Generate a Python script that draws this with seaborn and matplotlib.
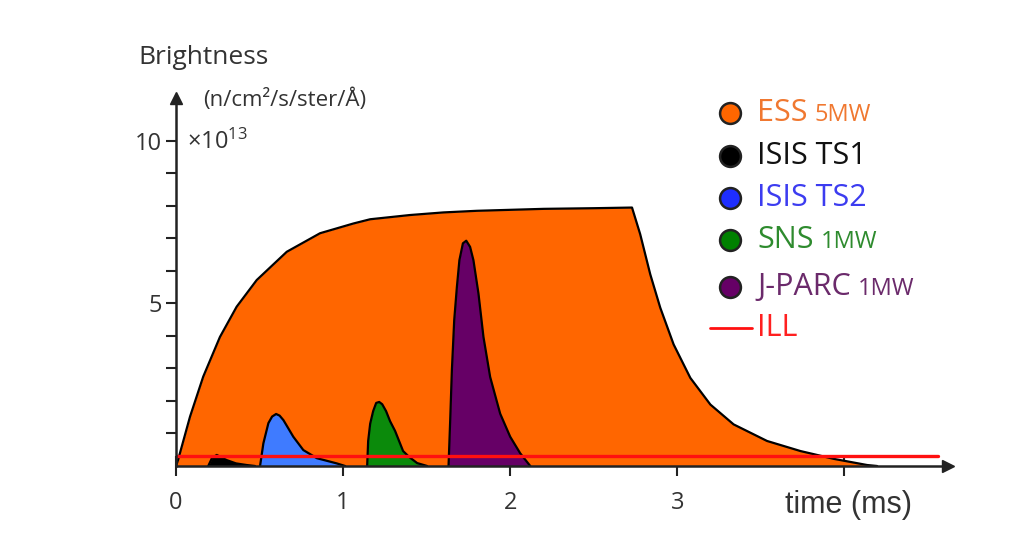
import matplotlib
matplotlib.use("Agg")
import matplotlib.pyplot as plt
import seaborn as sns

# ESS 5MW long pulse (time in ms, brightness in 1e13 n/cm2/s/ster/A)
ess_t = [0, 0.012, 0.084, 0.163, 0.263, 0.363, 0.483, 0.663, 0.862, 1.062, 1.162,
         1.4, 1.6, 1.8, 2.0, 2.2, 2.5, 2.729, 2.778, 2.838, 2.898, 2.978, 3.078,
         3.198, 3.337, 3.537, 3.737, 3.936, 4.136, 4.196]
ess_b = [0, 0.18, 1.52, 2.75, 3.97, 4.9, 5.72, 6.59, 7.16, 7.46, 7.59,
         7.72, 7.8, 7.85, 7.88, 7.91, 7.93, 7.95, 7.13, 5.9, 4.87, 3.74, 2.71,
         1.89, 1.28, 0.77, 0.46, 0.22, 0.03, 0]

# ISIS TS1
ts1_t = [0.193, 0.216, 0.244, 0.269, 0.304, 0.359, 0.423, 0.473]
ts1_b = [0, 0.25, 0.34, 0.27, 0.18, 0.08, 0.03, 0]

# ISIS TS2
ts2_t = [0.503, 0.523, 0.553, 0.575, 0.599, 0.62, 0.643, 0.702, 0.762, 0.843, 0.962, 1.012]
ts2_b = [0, 0.7, 1.32, 1.52, 1.6, 1.55, 1.41, 0.9, 0.49, 0.24, 0.08, 0]

# SNS 1MW
sns_t = [1.144, 1.150, 1.162, 1.18, 1.198, 1.216, 1.234, 1.257, 1.281, 1.311,
         1.359, 1.395, 1.443, 1.503]
sns_b = [0, 0.77, 1.3, 1.69, 1.94, 1.97, 1.9, 1.69, 1.38, 1.08,
         0.46, 0.28, 0.09, 0]

# J-PARC 1MW
jp_t = [1.631, 1.641, 1.651, 1.665, 1.681, 1.696, 1.717, 1.737, 1.760, 1.780,
        1.810, 1.840, 1.880, 1.940, 2.0, 2.060, 2.12]
jp_b = [0, 1.42, 2.95, 4.49, 5.51, 6.33, 6.85, 6.93, 6.74, 6.33,
        5.31, 3.97, 2.74, 1.61, 0.9, 0.39, 0]

# ILL (continuous source)
ill_t = [0, 4.56]
ill_b = [0.3, 0.3]

x_ticks = [0, 1, 2, 3, 4]
x_labels = ["0", "1", "2", "3", ""]
y_ticks = [5, 10]

sns.set_theme(style="white")
plt.rcParams['font.family'] = ['Open Sans', 'DejaVu Sans']
plt.rcParams['mathtext.fontset'] = 'custom'
plt.rcParams['mathtext.rm'] = 'Open Sans'
plt.rcParams['mathtext.it'] = 'Open Sans'
txt = '#333333'
axc = '#222222'

fig = plt.figure(figsize=(10.24, 5.48), dpi=100)
ax = fig.add_axes([176 / 1024, 1 - 466 / 548, 772 / 1024, 368 / 548])
ax.set_xlim(0, 4.62)
ax.set_ylim(0, 11.32)

pulses = [
    (ess_t, ess_b, '#FF6600'),
    (ts1_t, ts1_b, '#000000'),
    (ts2_t, ts2_b, '#3F7BFF'),
    (sns_t, sns_b, '#0B8A0B'),
    (jp_t, jp_b, '#660066'),
]
for t, b, c in pulses:
    ax.fill_between(t, b, 0, color=c, lw=0, zorder=2)
    sns.lineplot(x=t, y=b, ax=ax, color='black', lw=1.6, sort=False, zorder=3)

sns.lineplot(x=ill_t, y=ill_b, ax=ax, color='#FF1010', lw=2.4, zorder=4)

# axes drawn as arrows
for s in ['top', 'right']:
    ax.spines[s].set_visible(False)
for s in ['left', 'bottom']:
    ax.spines[s].set_color(axc)
    ax.spines[s].set_linewidth(1.8)
    ax.spines[s].set_zorder(5)
ax.plot(1, 0, '>', color=axc, ms=9, transform=ax.transAxes, clip_on=False, zorder=6)
ax.plot(0, 1, '^', color=axc, ms=9, transform=ax.transAxes, clip_on=False, zorder=6)

ax.set_xticks(x_ticks)
ax.set_xticklabels(x_labels)
ax.set_yticks(y_ticks)
ax.set_yticks(range(1, 11), minor=True)
ax.tick_params(axis='x', direction='inout', length=14, width=1.5, color=axc,
               pad=11, labelsize=17, labelcolor=txt, bottom=True)
ax.tick_params(axis='y', which='both', direction='out', length=7, width=1.5,
               color=axc, pad=3, labelsize=17, labelcolor=txt, left=True)

ax.text((187 - 176) / 772, 1 - (142 - 98) / 368, '×10$^{13}$', transform=ax.transAxes,
        fontsize=17, color=txt, va='center', ha='left')

fig.text(138 / 1024, 1 - 57 / 548, 'Brightness', fontsize=19, color=txt, va='center')
fig.text(203 / 1024, 1 - 100 / 548, '(n/cm²/s/ster/Å)', fontsize=16, color=txt, va='center')
fig.text(785 / 1024, 1 - 505 / 548, 'time (ms)', fontsize=22, color=txt, va='center',
         family='Liberation Sans')

# legend drawn by hand
legend = [
    ('ESS', '5MW', '#FF6600', '#F07830', 113),
    ('ISIS TS1', '', '#000000', '#111111', 156),
    ('ISIS TS2', '', '#1E2EFF', '#3C3CF0', 198),
    ('SNS', '1MW', '#008000', '#2E8B2E', 240),
    ('J-PARC', '1MW', '#660066', '#6B2A6B', 287),
]
for name, power, mc, tc, y in legend:
    yf = 1 - y / 548
    fig.lines.append(plt.Line2D([730 / 1024], [yf], marker='o', ms=15, mfc=mc,
                                mec='#222222', mew=1.8, transform=fig.transFigure))
    t = fig.text(757 / 1024, yf, name, fontsize=22, color=tc, va='center')
    if power:
        ax.annotate(power, xy=(1, 0.22), xycoords=t, xytext=(5, 0),
                    textcoords='offset points', fontsize=17, color=tc, va='baseline')
yf = 1 - 328 / 548
fig.lines.append(plt.Line2D([710 / 1024, 752 / 1024], [yf, yf], color='#FF1010', lw=2,
                            transform=fig.transFigure))
fig.text(757 / 1024, yf, 'ILL', fontsize=22, color='#FF2020', va='center')

fig.savefig('out.png', dpi=100, facecolor='white')
